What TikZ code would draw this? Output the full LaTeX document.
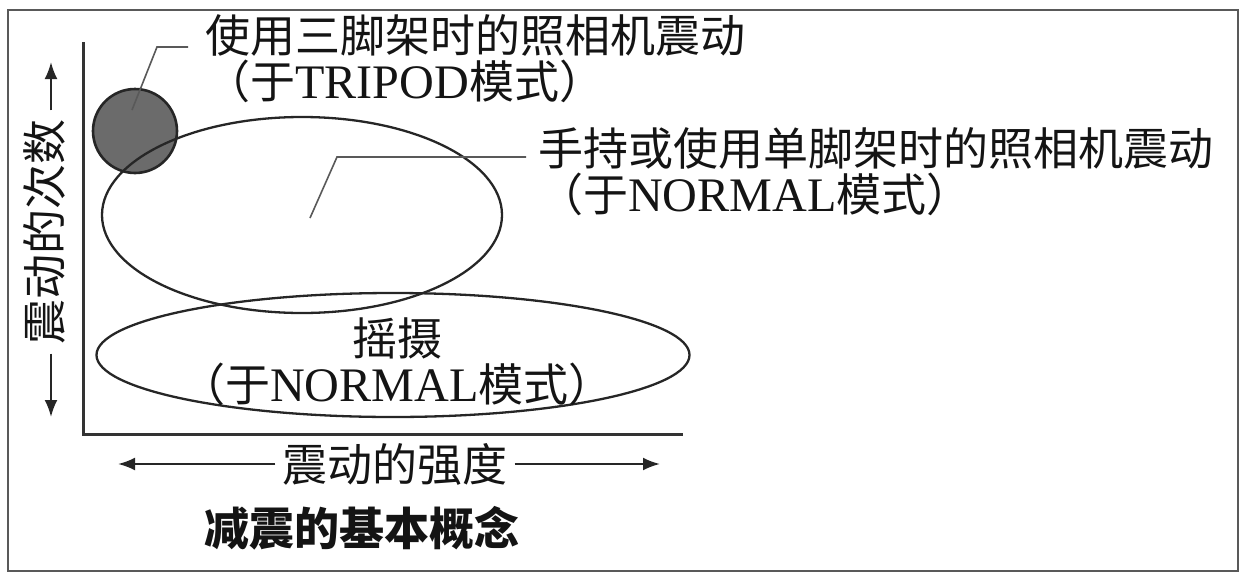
\documentclass[tikz,border=0pt]{standalone}
\usepackage{fontspec}
\setmainfont{Noto Sans CJK SC}
\newfontfamily\lat[Scale=1.07]{Liberation Serif}
\usetikzlibrary{arrows.meta,shapes.geometric}

\begin{document}
\begin{tikzpicture}[x=1pt,y=-1pt,
    lab/.style={font=\fontsize{45}{46}\selectfont, inner sep=0pt, text=black!92},
    leader/.style={draw=black!65, line width=1.6pt},
    arr/.style={draw=black!85, line width=2.2pt, -{Latex[length=17pt,width=13pt]}},
    ring/.style={ellipse, draw=black!85, line width=2.3pt, inner sep=0pt},
    dot/.style={circle, draw=black!85, fill=black!58, line width=2.6pt, inner sep=0pt}]
  \useasboundingbox (0,0) rectangle (1245,573);
  \draw[black!65, line width=2pt] (8,10) rectangle (1238,571);
  % axes
  \coordinate (ytop) at (83,42);
  \coordinate (orig) at (83,434);
  \coordinate (xend) at (683,434);
  \draw[black!80, line width=3pt] (ytop) -- (orig) -- (xend);
  % regions
  \node[dot, minimum size=84] (tri) at (135,131) {};
  \node[ring, minimum width=400, minimum height=196] (hand) at (302,215) {};
  \node[ring, minimum width=593, minimum height=124] (pan) at (393,355) {};
  % labels
  \node[lab, anchor=north west, align=left] (trilab) at (205,14)
    {使用三脚架时的照相机震动\\（于{\lat TRIPOD}模式）};
  \node[lab, anchor=north west, align=left] (handlab) at (538,127)
    {手持或使用单脚架时的照相机震动\\（于{\lat NORMAL}模式）};
  \node[lab, align=center] (panlab) at (397,362) {摇摄\\（于{\lat NORMAL}模式）};
  % leaders
  \coordinate (k1) at (157,47);
  \coordinate (e1) at (188,47);
  \draw[leader] ([shift={(-3,-21)}]tri.center) -- (k1) -- (e1);
  \coordinate (k2) at (337,157);
  \coordinate (e2) at (526,157);
  \draw[leader] ([shift={(8,3)}]hand.center) -- (k2) -- (e2);
  % axis names
  \node[lab, inner sep=7pt] (xlab) at (395,464) {震动的强度};
  \coordinate (xl) at (118,464);
  \coordinate (xr) at (660,464);
  \draw[arr] (xlab) -- (xl);
  \draw[arr] (xlab) -- (xr);
  \node[lab, rotate=90, inner sep=9pt] (ylab) at (44,232) {震动的次数};
  \coordinate (yt) at (51,62);
  \coordinate (yb) at (51,417);
  \draw[arr] ([xshift=7pt]ylab.east) -- (yt);
  \draw[arr] ([xshift=7pt]ylab.west) -- (yb);
  \node[lab, font=\fontsize{45}{46}\selectfont\bfseries] (cap) at (362,528) {减震的基本概念};
\end{tikzpicture}
\end{document}
